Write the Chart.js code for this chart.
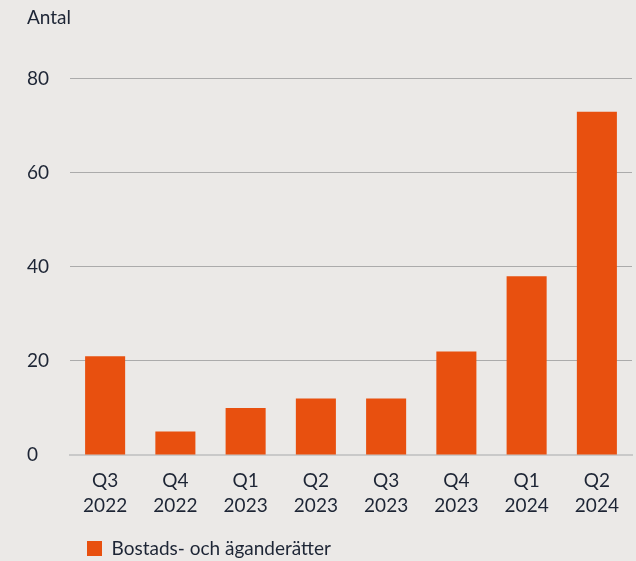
<!DOCTYPE html>
<html><head><meta charset="utf-8">
<script src="https://cdn.jsdelivr.net/npm/chart.js@4"></script>
<style>html,body{margin:0;padding:0;background:#ebe9e7;}#wrap{width:636px;height:561px;}</style>
</head><body><div id="wrap"><canvas id="c" width="636" height="561"></canvas></div>
<script>
const quarters = ['Q3','Q4','Q1','Q2','Q3','Q4','Q1','Q2'];
const years = ['2022','2022','2023','2023','2023','2023','2024','2024'];
const values = [21, 5, 10, 12, 12, 22, 38, 73];
const yTicks = [0, 20, 40, 60, 80];
const seriesName = 'Bostads- och äganderätter';
const yTitle = 'Antal';

const labels = quarters.map((q, i) => [q, years[i]]);
const FONT = 'Lato, "Open Sans", sans-serif';
const TXT = '#1d2535';

new Chart(document.getElementById('c'), {
  type: 'bar',
  data: { labels, datasets: [{ label: seriesName, data: values, backgroundColor: '#e8500f', borderWidth: 0, barPercentage: 0.57, categoryPercentage: 1 }] },
  options: {
    responsive: false, animation: false, devicePixelRatio: 1,
    layout: { padding: { left: 27, right: 4, top: 0, bottom: -7 } },
    plugins: {
      title: { display: true, text: yTitle, align: 'start', color: TXT, font: { family: FONT, size: 19, weight: 'normal' }, padding: { top: 6, bottom: 50 } },
      legend: { position: 'bottom', align: 'start', fullSize: false,
        labels: { color: TXT, boxWidth: 15, boxHeight: 15, padding: 17, font: { family: FONT, size: 19 } } },
      tooltip: { enabled: false }
    },
    scales: {
      x: { grid: { display: false }, border: { display: true, color: '#c9c9c9', width: 2 },
        ticks: { color: TXT, padding: 5, maxRotation: 0, font: { family: FONT, size: 19, lineHeight: 1.32 } },
        afterFit: s => { s.height = 67; } },
      y: { min: 0, max: 80, border: { display: false },
        afterBuildTicks: s => { s.ticks = yTicks.map(v => ({ value: v })); },
        grid: { drawTicks: false, color: ctx => ctx.tick && ctx.tick.value === 0 ? 'rgba(0,0,0,0)' : '#ababab', lineWidth: 1 },
        ticks: { color: TXT, crossAlign: 'far', padding: 0, font: { family: FONT, size: 19 } },
        afterFit: s => { s.width = 43; } }
    }
  }
});
</script></body></html>
